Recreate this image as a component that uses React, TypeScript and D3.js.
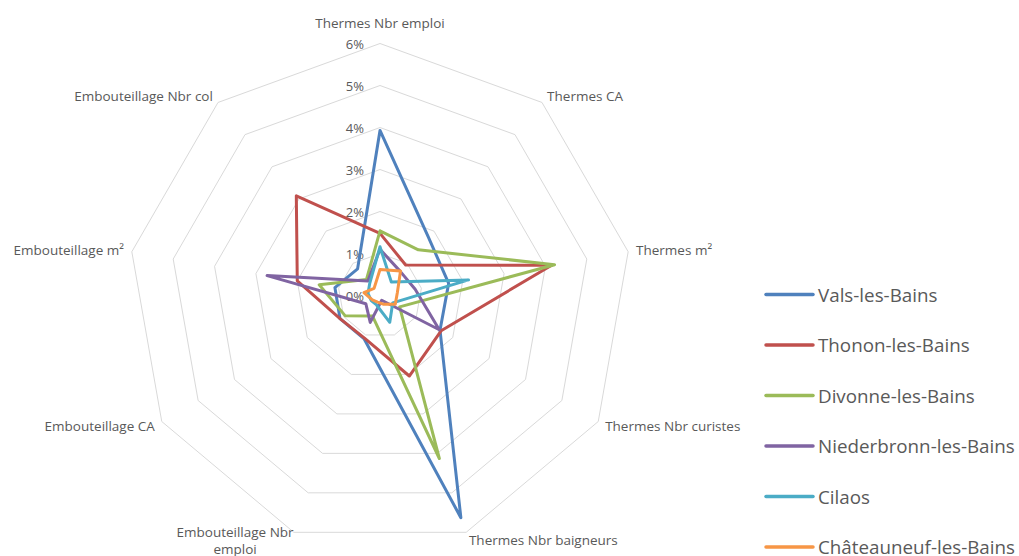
import React from "react";
import * as d3 from "d3";

const categories = [
  "Thermes Nbr emploi",
  "Thermes CA",
  "Thermes m²",
  "Thermes Nbr curistes",
  "Thermes Nbr baigneurs",
  "Embouteillage Nbr emploi",
  "Embouteillage CA",
  "Embouteillage m²",
  "Embouteillage Nbr col",
];

const seriesNames = [
  "Vals-les-Bains",
  "Thonon-les-Bains",
  "Divonne-les-Bains",
  "Niederbronn-les-Bains",
  "Cilaos",
  "Châteauneuf-les-Bains",
];

const valsLesBains = [3.93, 1.8, 1.66, 1.65, 5.63, 1.1, 1.1, 1.09, 0.83];
const thononLesBains = [1.48, 0.95, 4.15, 1.68, 2.04, 1.08, 1.1, 2.0, 3.1];
const divonneLesBains = [1.54, 1.42, 4.22, 0.54, 4.13, 0.52, 0.96, 1.47, 0.5];
const niederbronnLesBains = [1.1, 0.75, 0.85, 1.63, 0.12, 0.68, 0.39, 2.73, 0.45];
const cilaos = [1.16, 0.42, 2.14, 0.35, 0.68, 0.24, 0.24, 0.29, 0.38];
const chateauneufLesBains = [0.62, 0.76, 0.42, 0.42, 0.22, 0.17, 0.21, 0.39, 0.22];

const seriesValues = [
  valsLesBains,
  thononLesBains,
  divonneLesBains,
  niederbronnLesBains,
  cilaos,
  chateauneufLesBains,
];

const colors = ["#4F81BD", "#C0504D", "#9BBB59", "#8064A2", "#4BACC6", "#F79646"];

const tickValues = [0, 1, 2, 3, 4, 5, 6];
const tickLabels = ["0%", "1%", "2%", "3%", "4%", "5%", "6%"];

const W = 1019;
const H = 556;
const CX = 380;
const CY = 295.5;
const RMAX = 252;
const FONT = "'Open Sans', 'Noto Sans', sans-serif";
const TXT = "#595959";

export default function App() {
  const r = d3.scaleLinear().domain([0, 6]).range([0, RMAX]);
  const n = categories.length;
  const angle = d3
    .scaleLinear()
    .domain([0, n])
    .range([0, 2 * Math.PI]);

  const pt = (i: number, v: number): [number, number] => {
    const a = angle(i);
    return [CX + r(v) * Math.sin(a), CY - r(v) * Math.cos(a)];
  };

  const ringLine = d3
    .line<[number, number]>()
    .x((d) => d[0])
    .y((d) => d[1])
    .curve(d3.curveLinearClosed);

  const rings = tickValues.slice(1).map((t) =>
    ringLine(categories.map((_, i) => pt(i, t)))
  );

  const seriesPaths = seriesValues.map((vals) =>
    ringLine(vals.map((v, i) => pt(i, v)))
  );

  // Category labels
  const labelR = RMAX + 8;
  const labels = categories.map((c, i) => {
    const a = angle(i);
    const s = Math.sin(a);
    let x = CX + labelR * s;
    let y = CY - labelR * Math.cos(a);
    let anchor: "start" | "middle" | "end" = s > 0.05 ? "start" : s < -0.05 ? "end" : "middle";
    let lines = [c];
    if (i === 0) {
      y = CY - RMAX - 21;
    }
    if (i === 5) {
      lines = ["Embouteillage Nbr", "emploi"];
      anchor = "middle";
      x = x - 56;
      y = y - 8;
    }
    return { x, y, anchor, lines };
  });

  const legendX = 766;
  const legendY0 = 294.5;
  const legendStep = 50.5;

  return (
    <svg
      width={W}
      height={H}
      style={{ position: "absolute", left: 0, top: 0, background: "#fff" }}
      fontFamily={FONT}
    >
      <rect x={0} y={0} width={W} height={H} fill="#fff" />
      <g>
        {rings.map((d, i) => (
          <path key={i} d={d || ""} fill="none" stroke="#D9D9D9" strokeWidth={1} />
        ))}
      </g>
      <g>
        {tickValues.map((t, i) => (
          <text
            key={i}
            x={364}
            y={CY - r(t)}
            textAnchor="end"
            dominantBaseline="central"
            fontSize={13}
            fill={TXT}
          >
            {tickLabels[i]}
          </text>
        ))}
      </g>
      <g>
        {labels.map((l, i) => (
          <text
            key={i}
            x={l.x}
            y={l.y}
            textAnchor={l.anchor}
            dominantBaseline="central"
            fontSize={13.5}
            fill={TXT}
          >
            {l.lines.map((ln, j) => (
              <tspan key={j} x={l.x} dy={j === 0 ? 0 : 17}>
                {ln}
              </tspan>
            ))}
          </text>
        ))}
      </g>
      <g>
        {seriesPaths.map((d, i) => (
          <path
            key={i}
            d={d || ""}
            fill="none"
            stroke={colors[i]}
            strokeWidth={3}
            strokeLinejoin="round"
          />
        ))}
      </g>
      <g>
        {seriesNames.map((s, i) => {
          const y = legendY0 + i * legendStep;
          return (
            <g key={i}>
              <line
                x1={legendX}
                x2={legendX + 47}
                y1={y}
                y2={y}
                stroke={colors[i]}
                strokeWidth={3.5}
                strokeLinecap="round"
              />
              <text
                x={legendX + 52}
                y={y}
                dominantBaseline="central"
                fontSize={18.8}
                fill={TXT}
              >
                {s}
              </text>
            </g>
          );
        })}
      </g>
    </svg>
  );
}
